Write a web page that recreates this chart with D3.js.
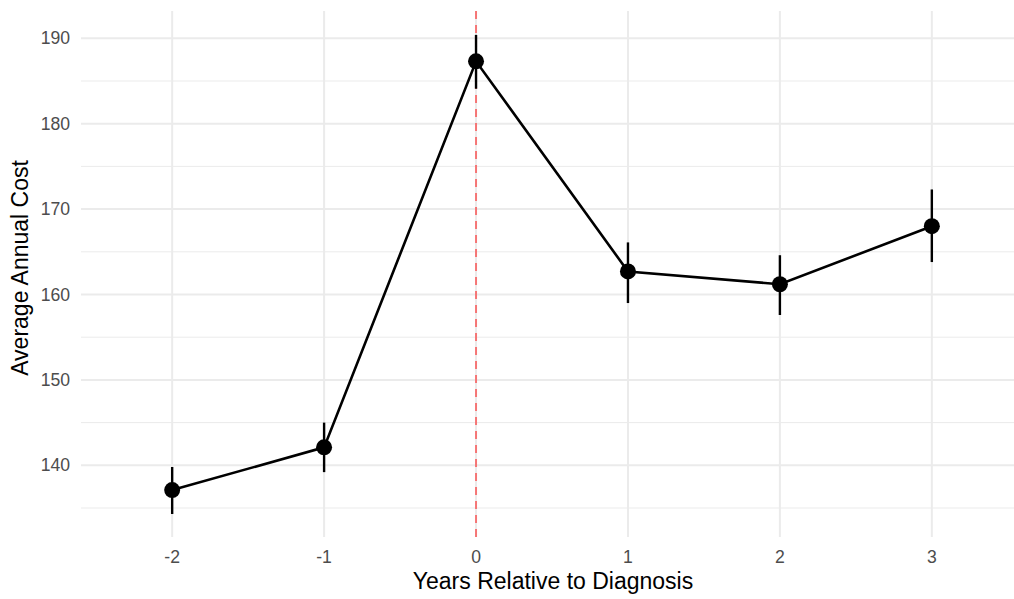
<!DOCTYPE html>
<html>
<head>
<meta charset="utf-8">
<script src="https://cdn.jsdelivr.net/npm/d3@7"></script>
<style>
  body { margin: 0; background: #fff; }
  svg { display: block; font-family: "Liberation Sans", Arial, sans-serif; }
</style>
</head>
<body>
<svg id="chart" width="1014" height="599"></svg>
<script>
// data
const years = [-2, -1, 0, 1, 2, 3];
const cost = [137.1, 142.1, 187.3, 162.7, 161.2, 168.0];
const lower = [134.3, 139.2, 184.1, 159.0, 157.6, 163.8];
const upper = [139.8, 145.0, 190.4, 166.1, 164.6, 172.3];
const yTicks = [140, 150, 160, 170, 180, 190];
const yMinor = [135, 145, 155, 165, 175, 185];

const svg = d3.select('#chart');
const panelLeft = 81, panelRight = 1023, panelTop = 11, panelBottom = 537;

const x = d3.scaleLinear().domain([-2.6, 3.6]).range([panelLeft, panelRight]);
const y = d3.scaleLinear().domain([140, 190]).range([465.3, 38.3]);

const data = years.map((d, i) => ({ year: d, cost: cost[i], lo: lower[i], hi: upper[i] }));

const grid = svg.append('g');
// minor horizontal grid
grid.selectAll('.minor').data(yMinor).enter().append('line')
    .attr('x1', panelLeft).attr('x2', 1014)
    .attr('y1', d => y(d)).attr('y2', d => y(d))
    .attr('stroke', '#ebebeb').attr('stroke-width', 1);
// major horizontal grid
grid.selectAll('.major-y').data(yTicks).enter().append('line')
    .attr('x1', panelLeft).attr('x2', 1014)
    .attr('y1', d => y(d)).attr('y2', d => y(d))
    .attr('stroke', '#ebebeb').attr('stroke-width', 2);
// vertical grid
grid.selectAll('.major-x').data(years).enter().append('line')
    .attr('x1', d => x(d)).attr('x2', d => x(d))
    .attr('y1', panelTop).attr('y2', panelBottom)
    .attr('stroke', '#ebebeb').attr('stroke-width', 2);

// y tick labels
svg.append('g').selectAll('text').data(yTicks).enter().append('text')
    .attr('x', 70).attr('y', d => y(d))
    .attr('dy', '0.35em')
    .attr('text-anchor', 'end')
    .attr('fill', '#4d4d4d')
    .style('font-size', '17.6px')
    .text(d => d);

// x tick labels
svg.append('g').selectAll('text').data(years).enter().append('text')
    .attr('x', d => x(d)).attr('y', 563)
    .attr('text-anchor', 'middle')
    .attr('fill', '#4d4d4d')
    .style('font-size', '17.6px')
    .text(d => d);

// axis titles
svg.append('text')
    .attr('x', 553).attr('y', 589)
    .attr('text-anchor', 'middle')
    .style('font-size', '23px')
    .text('Years Relative to Diagnosis');
svg.append('text')
    .attr('transform', 'translate(28,268) rotate(-90)')
    .attr('text-anchor', 'middle')
    .style('font-size', '23px')
    .text('Average Annual Cost');

// reference line at diagnosis
svg.append('line')
    .attr('x1', x(0)).attr('x2', x(0))
    .attr('y1', panelTop).attr('y2', panelBottom)
    .attr('stroke', '#ff0000').attr('stroke-opacity', 0.5)
    .attr('stroke-width', 2)
    .attr('stroke-dasharray', '8,6');

// error bars
svg.append('g').selectAll('line').data(data).enter().append('line')
    .attr('x1', d => x(d.year)).attr('x2', d => x(d.year))
    .attr('y1', d => y(d.lo)).attr('y2', d => y(d.hi))
    .attr('stroke', '#000').attr('stroke-width', 2.4);

// line
const line = d3.line().x(d => x(d.year)).y(d => y(d.cost));
svg.append('path')
    .datum(data)
    .attr('d', line)
    .attr('fill', 'none')
    .attr('stroke', '#000')
    .attr('stroke-width', 2.6);

// points
svg.append('g').selectAll('circle').data(data).enter().append('circle')
    .attr('cx', d => x(d.year)).attr('cy', d => y(d.cost))
    .attr('r', 8)
    .attr('fill', '#000');
</script>
</body>
</html>
